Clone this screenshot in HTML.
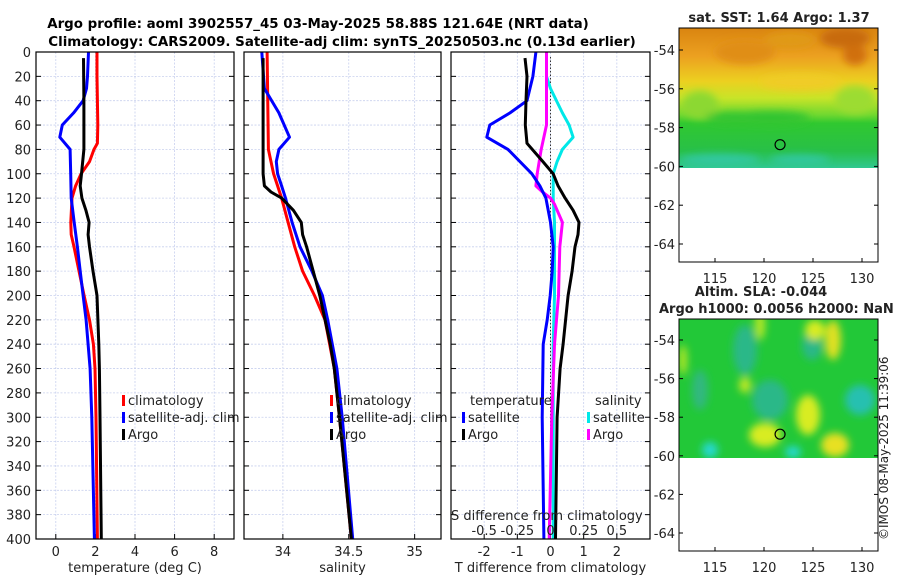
<!DOCTYPE html>
<html><head><meta charset="utf-8"><style>
body{margin:0;background:#fff;font-family:"DejaVu Sans","Liberation Sans",sans-serif;}
svg text{font-family:"DejaVu Sans","Liberation Sans",sans-serif;fill:#222;}
</style></head><body>
<svg id="fig" width="900" height="580" viewBox="0 0 900 580" xmlns="http://www.w3.org/2000/svg">
<defs>
<linearGradient id="sstg" x1="0" y1="0" x2="0" y2="1">
<stop offset="0" stop-color="#d98410"/><stop offset="0.2" stop-color="#eca020"/><stop offset="0.38" stop-color="#ecd020"/><stop offset="0.5" stop-color="#c8e428"/><stop offset="0.62" stop-color="#70d830"/><stop offset="0.68" stop-color="#30c830"/><stop offset="0.88" stop-color="#28c048"/><stop offset="1" stop-color="#30c890"/>
</linearGradient>
<filter id="blur"><feGaussianBlur stdDeviation="4"/></filter>
<clipPath id="c1"><rect x="679" y="28" width="199" height="140"/></clipPath>
<clipPath id="c2"><rect x="679" y="319" width="199" height="139"/></clipPath>
</defs>
<text x="318" y="28" font-size="13.4" font-weight="bold" text-anchor="middle" style="fill:#000">Argo profile: aoml 3902557_45 03-May-2025 58.88S 121.64E (NRT data)</text>
<text x="342" y="46" font-size="13.4" font-weight="bold" text-anchor="middle" style="fill:#000">Climatology: CARS2009. Satellite-adj clim: synTS_20250503.nc (0.13d earlier)</text>
<g id="panels"></g>
<g id="maps"></g>
<text transform="translate(888,540) rotate(-90)" font-size="12">©IMOS 08-May-2025 11:39:06</text>
</svg>
<script>
const depthRed=[0,20,40,60,75,80,90,100,110,120,140,150,160,180,200,220,240,260,300,400];
const tempRed=[2.08,2.08,2.1,2.12,2.1,1.93,1.7,1.28,1.0,0.82,0.76,0.78,0.92,1.17,1.43,1.7,1.9,1.98,2.03,2.1];
const depthBlue=[0,20,30,40,50,60,70,80,100,120,140,160,180,200,220,260,300,400];
const tempBlue=[1.65,1.6,1.55,1.38,0.9,0.33,0.2,0.72,0.75,0.78,0.93,1.09,1.23,1.38,1.53,1.73,1.82,1.95];
const depthArgo=[5,40,80,100,110,120,130,140,150,160,180,200,240,260,300,400];
const tempArgo=[1.4,1.42,1.42,1.3,1.23,1.32,1.52,1.68,1.63,1.7,1.88,2.08,2.17,2.2,2.23,2.3];
const salDepthRed=[0,80,100,110,120,140,160,180,200,220,260,300,400];
const salRed=[33.88,33.89,33.93,33.96,33.99,34.04,34.09,34.15,34.24,34.32,34.39,34.43,34.52];
const salDepthBlue=[0,30,50,70,80,90,100,110,120,140,160,180,200,220,260,300,400];
const salBlue=[33.84,33.86,33.97,34.05,33.97,33.95,33.96,33.99,34.02,34.07,34.13,34.22,34.3,34.34,34.41,34.45,34.53];
const salDepthArgo=[5,100,110,115,120,130,140,150,160,180,200,240,260,300,400];
const salArgo=[33.85,33.85,33.86,33.91,33.99,34.08,34.14,34.15,34.18,34.23,34.28,34.36,34.39,34.43,34.52];
const dTDepthSat=[0,20,40,50,60,70,80,100,110,120,140,160,180,200,220,240,300,400];
const dTSat=[-0.44,-0.53,-0.71,-1.22,-1.83,-1.92,-1.28,-0.56,-0.32,-0.14,0.0,0.08,0.05,-0.01,-0.1,-0.22,-0.25,-0.2];
const dTDepthArgo=[5,20,40,60,75,90,100,110,120,130,140,150,160,180,200,240,260,300,400];
const dTArgo=[-0.77,-0.71,-0.74,-0.76,-0.71,-0.23,0.08,0.23,0.44,0.68,0.86,0.83,0.74,0.65,0.53,0.38,0.29,0.2,0.15];
const dSDepthSat=[0,20,30,50,60,70,80,90,100,120,140,200,240,400];
const dSSat=[-0.03,-0.03,0.0,0.09,0.14,0.17,0.09,0.05,0.02,0.02,0.03,0.03,0.02,0.02];
const dSDepthArgo=[0,60,80,100,110,115,120,125,135,140,160,200,240,300,400];
const dSArgo=[-0.03,-0.03,-0.07,-0.1,-0.11,-0.06,0.0,0.03,0.07,0.09,0.07,0.06,0.03,0.01,-0.01];
const depthTicks=[0,20,40,60,80,100,120,140,160,180,200,220,240,260,280,300,320,340,360,380,400];
const tTicks=[0,2,4,6,8];
const sTicks=[34,34.5,35];
const dTTicks=[-2,-1,0,1,2];
const dSTicks=[-0.5,-0.25,0,0.25,0.5];
const dSTickLabels=["-0.5","-0.25","0","0.25","0.5"];
const latTicks=[-54,-56,-58,-60,-62,-64];
const lonTicks=[115,120,125,130];

const NS="http://www.w3.org/2000/svg";
const yTop=52,yBot=539;
const yD=d=>yTop+(d/400)*(yBot-yTop);
function el(tag,attrs,parent){const e=document.createElementNS(NS,tag);for(const k in attrs)e.setAttribute(k,attrs[k]);parent.appendChild(e);return e;}
const P=document.getElementById('panels');
function panel(name,x0,x1,xmin,xmax,ticks,labels,xlabel,leftLabels){
  const g=el('g',{},P);
  
  
  const xf=v=>x0+(v-xmin)/(xmax-xmin)*(x1-x0);
  depthTicks.forEach(d=>{el('line',{x1:x0,x2:x1,y1:yD(d),y2:yD(d),stroke:'#c8d0ee','stroke-width':0.8,'stroke-dasharray':'2,1.5'},g);
    el('line',{x1:x0,x2:x0+5,y1:yD(d),y2:yD(d),stroke:'#000'},g);el('line',{x1:x1-5,x2:x1,y1:yD(d),y2:yD(d),stroke:'#000'},g);
    if(leftLabels){const t=el('text',{x:x0-5,y:yD(d)+5,'font-size':13,'text-anchor':'end'},g);t.textContent=d;}});
  ticks.forEach((v,i)=>{const x=xf(v);el('line',{x1:x,x2:x,y1:yTop,y2:yBot,stroke:'#c8d0ee','stroke-width':0.8,'stroke-dasharray':'2,1.5'},g);
    el('line',{x1:x,x2:x,y1:yBot-5,y2:yBot,stroke:'#000'},g);
    const t=el('text',{x:x,y:556,'font-size':13,'text-anchor':'middle'},g);t.textContent=labels[i];});
  const t=el('text',{x:(x0+x1)/2,y:572,'font-size':13,'text-anchor':'middle'},g);t.textContent=xlabel;
  return {g,xf,x0,x1};
}
function line(p,depths,vals,color,name,w){
  const pts=depths.map((d,i)=>p.xf(vals[i]).toFixed(1)+','+yD(d).toFixed(1)).join(' ');
  const l=el('polyline',{points:pts,fill:'none',stroke:color,'stroke-width':w||3,'stroke-linejoin':'round'},p.g);
  
  
}
function frame(p){el('rect',{x:p.x0,y:yTop,width:p.x1-p.x0,height:yBot-yTop,fill:'none',stroke:'#000','stroke-width':1.2},p.g);}
function legend(p,x,y,items){items.forEach((it,i)=>{
  const gy=y+i*17;
  const m=el('rect',{x:x,y:gy-10,width:3,height:11,fill:it[0]},p.g);
  
  
  const t=el('text',{x:x+6,y:gy,'font-size':13},p.g);t.textContent=it[1];
  
  });}

const p1=panel('temperature-panel',36,234,-1,9,tTicks,tTicks.map(String),'temperature (deg C)',true);
line(p1,depthRed,tempRed,'#f00','climatology-temp-line');
line(p1,depthBlue,tempBlue,'#00f','satellite-temp-line');
line(p1,depthArgo,tempArgo,'#000','argo-temp-line');
legend(p1,122,405,[['#f00','climatology'],['#00f','satellite-adj. clim'],['#000','Argo']]);
frame(p1);

const p2=panel('salinity-panel',244,441,33.705,35.2,sTicks,['34','34.5','35'],'salinity',false);
line(p2,salDepthRed,salRed,'#f00','climatology-sal-line');
line(p2,salDepthBlue,salBlue,'#00f','satellite-sal-line');
line(p2,salDepthArgo,salArgo,'#000','argo-sal-line');
legend(p2,330,405,[['#f00','climatology'],['#00f','satellite-adj. clim'],['#000','Argo']]);
frame(p2);

const p3=panel('difference-panel',451,650,-3,3,dTTicks,dTTicks.map(String),'T difference from climatology',false);
el('line',{x1:p3.xf(0),x2:p3.xf(0),y1:yTop+5,y2:yBot,stroke:'#333','stroke-width':1,'stroke-dasharray':'1.5,2'},p3.g);
const sf=v=>451+(v+0.75)/1.5*199;
const p3s={g:p3.g,xf:sf};
line(p3s,dSDepthSat,dSSat,'#00e8e8','sat-sal-diff-line');
line(p3s,dSDepthArgo,dSArgo,'#f0f','argo-sal-diff-line');
line(p3,dTDepthSat,dTSat,'#00f','sat-temp-diff-line');
line(p3,dTDepthArgo,dTArgo,'#000','argo-temp-diff-line');
let t=el('text',{x:470,y:405,'font-size':13},p3.g);t.textContent='temperature';
t=el('text',{x:595,y:405,'font-size':13},p3.g);t.textContent='salinity';
legend(p3,462,422,[['#00f','satellite'],['#000','Argo']]);
legend(p3,587,422,[['#00e8e8','satellite'],['#f0f','Argo']]);
t=el('text',{x:451,y:520,'font-size':13},p3.g);t.textContent='S difference from climatology';
dSTicks.forEach((v,i)=>{const tt=el('text',{x:sf(v),y:535,'font-size':13,'text-anchor':'middle'},p3.g);tt.textContent=dSTickLabels[i];});
frame(p3);

const M=document.getElementById('maps');
function map(name,latTopY,latStep){
  const g=el('g',{},M);
  
  
  const lonX=l=>715+(l-115)*9.8;
  const latY=l=>latTopY+(-54-l)*latStep;
  return {g,lonX,latY};
}
const m1=map('sst-map',50,19.4);
el('rect',{x:679,y:28,width:199,height:140,fill:'url(#sstg)'},m1.g);
const b1=el('g',{'clip-path':'url(#c1)'},m1.g);
const b1i=el('g',{filter:'url(#blur)'},b1);
[[845,38,25,10,'#c86a10'],[855,55,12,10,'#d07010'],[745,52,30,12,'#e08e18'],[790,40,25,8,'#e09a18'],[800,82,40,8,'#f0cc28'],[700,105,18,14,'#8cd830'],[855,100,20,14,'#9cdc30'],[770,118,40,7,'#30c430'],[735,118,30,6,'#30c430'],[720,160,40,6,'#30c8a0'],[800,160,30,5,'#30c8a0']].forEach(e=>el('ellipse',{cx:e[0],cy:e[1],rx:e[2],ry:e[3],fill:e[4]},b1i));
const m2=map('sla-map',340,19.3);
el('rect',{x:679,y:319,width:199,height:139,fill:'#22c838'},m2.g);
const b2=el('g',{'clip-path':'url(#c2)'},m2.g);
const b2i=el('g',{filter:'url(#blur)'},b2);
[[745,350,12,25,'#2cb888'],[770,400,18,20,'#2cb888'],[812,345,10,15,'#2cb888'],[860,400,15,15,'#28c0b0'],[700,390,8,20,'#30b880'],[815,330,10,10,'#d8ec20'],[833,340,8,20,'#e0e020'],[765,435,16,12,'#d8ec20'],[808,415,12,20,'#d8ec20'],[835,445,14,12,'#e8e020'],[745,385,6,8,'#c0e828'],[710,450,8,8,'#28d8d0'],[793,452,8,6,'#28d8d0'],[760,325,5,15,'#b8e828'],[683,360,4,15,'#b8e828']].forEach(e=>el('ellipse',{cx:e[0],cy:e[1],rx:e[2],ry:e[3],fill:e[4]},b2i));
[[m1,28,262],[m2,319,551]].forEach(([m,y0,y1])=>{
  el('rect',{x:679,y:y0,width:199,height:y1-y0,fill:'none',stroke:'#000','stroke-width':1},m.g);
  latTicks.forEach(l=>{const y=m.latY(l);el('line',{x1:679,x2:683,y1:y,y2:y,stroke:'#000'},m.g);el('line',{x1:874,x2:878,y1:y,y2:y,stroke:'#000'},m.g);
    const tx=el('text',{x:675,y:y+5,'font-size':13,'text-anchor':'end'},m.g);tx.textContent=l;});
  lonTicks.forEach(l=>{const x=m.lonX(l);el('line',{x1:x,x2:x,y1:y1-4,y2:y1,stroke:'#000'},m.g);
    const tx=el('text',{x:x,y:y1+21,'font-size':13,'text-anchor':'middle'},m.g);tx.textContent=l;});
  const c=el('circle',{cx:m.lonX(121.64),cy:m.latY(-58.88),r:5,fill:'none',stroke:'#000','stroke-width':1.2},m.g);
  
  
});
t=el('text',{x:779,y:22,'font-size':13,'font-weight':'bold','text-anchor':'middle'},m1.g);t.textContent='sat. SST: 1.64 Argo: 1.37';
t=el('text',{x:761,y:296,'font-size':13,'font-weight':'bold','text-anchor':'middle'},m2.g);t.textContent='Altim. SLA: -0.044';
t=el('text',{x:659,y:313,'font-size':13,'font-weight':'bold'},m2.g);t.textContent='Argo h1000: 0.0056 h2000: NaN';
</script>
</body></html>
